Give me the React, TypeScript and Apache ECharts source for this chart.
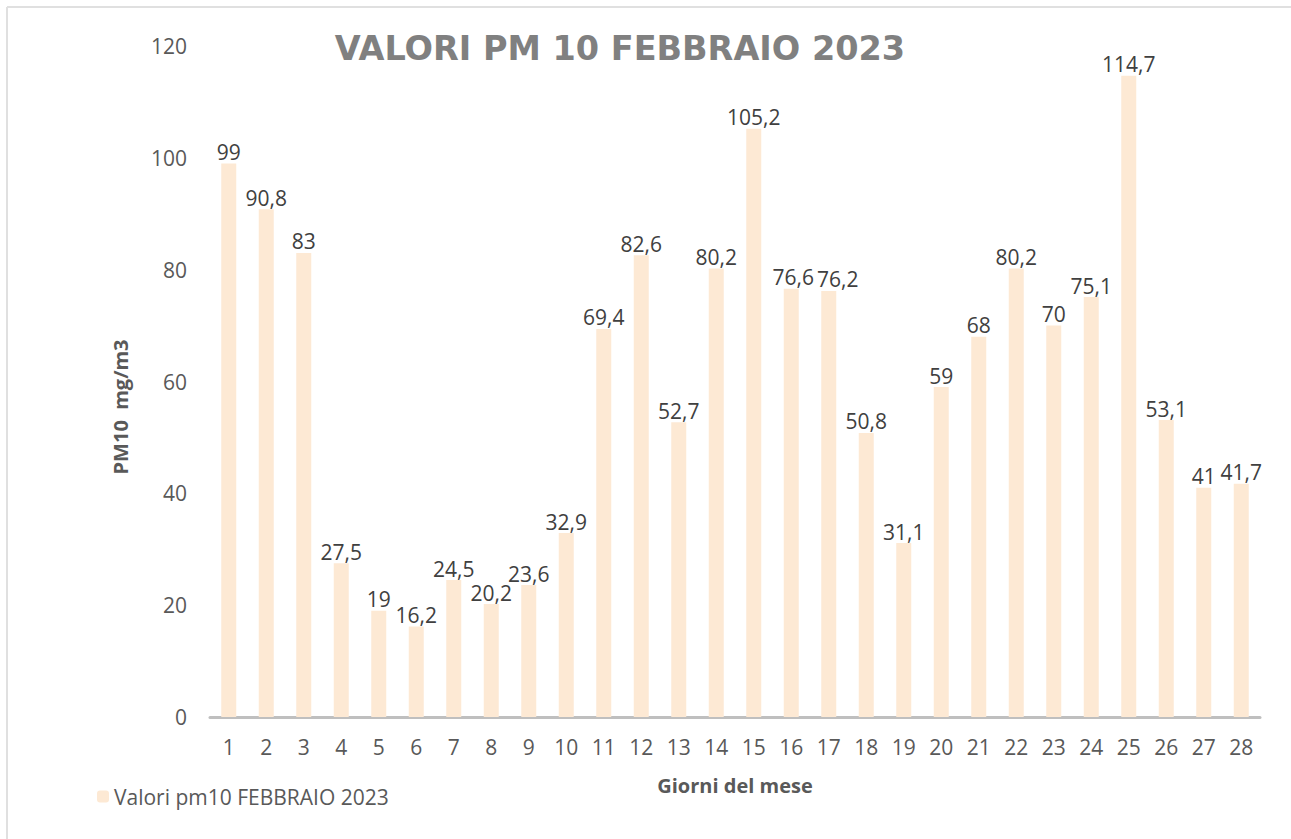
import React, { useEffect, useRef } from "react";
import * as echarts from "echarts";

const days = ["1","2","3","4","5","6","7","8","9","10","11","12","13","14","15","16","17","18","19","20","21","22","23","24","25","26","27","28"];
const pm10Values = [99, 90.8, 83, 27.5, 19, 16.2, 24.5, 20.2, 23.6, 32.9, 69.4, 82.6, 52.7, 80.2, 105.2, 76.6, 76.2, 50.8, 31.1, 59, 68, 80.2, 70, 75.1, 114.7, 53.1, 41, 41.7];
const seriesName = "Valori pm10 FEBBRAIO 2023";
const titleText = "VALORI PM 10 FEBBRAIO 2023";
const yAxisTitle = "PM10  mg/m3";
const xAxisTitle = "Giorni del mese";

const FONT = "'Open Sans', 'Noto Sans', sans-serif";

// horizontal nudges of crowded data labels (by day index), as in the reference
const labelNudge: Record<number, number> = { 15: 2, 16: 9 };

export default function App() {
  const ref = useRef<HTMLDivElement>(null);
  useEffect(() => {
    if (!ref.current) return;
    const chart = echarts.init(ref.current, undefined, { renderer: "svg" });
    chart.setOption({
      animation: false,
      backgroundColor: "#ffffff",
      title: {
        text: titleText,
        left: 615,
        textAlign: "center",
        top: 26,
        textStyle: { fontFamily: "'DejaVu Sans', sans-serif", fontSize: 33.5, fontWeight: "bold", color: "#808080" },
      },
      legend: {
        left: 92,
        top: 781,
        itemWidth: 12,
        itemHeight: 12,
        itemGap: 10,
        textStyle: { fontFamily: FONT, fontSize: 21, color: "#595959" },
        data: [seriesName],
      },
      grid: { left: 210, right: 31, top: 46, bottom: 122, containLabel: false },
      xAxis: {
        type: "category",
        data: days,
        name: xAxisTitle,
        nameLocation: "middle",
        nameGap: 58,
        nameTextStyle: { fontFamily: FONT, fontSize: 20, fontWeight: "bold", color: "#595959" },
        axisLine: { lineStyle: { color: "#bfbfbf", width: 3 } },
        axisTick: { show: false },
        axisLabel: { fontFamily: FONT, fontSize: 21, color: "#595959", margin: 19 },
      },
      yAxis: {
        type: "value",
        min: 0,
        max: 120,
        interval: 20,
        axisLine: { show: false },
        axisTick: { show: false },
        splitLine: { show: false },
        axisLabel: { fontFamily: FONT, fontSize: 21, color: "#595959", margin: 23 },
      },
      series: [
        {
          name: seriesName,
          type: "bar",
          data: pm10Values.map((v, i) =>
            labelNudge[i] !== undefined ? { value: v, label: { offset: [labelNudge[i], 0] } } : v
          ),
          barWidth: 15,
          itemStyle: { color: "#fde9d4" },
          label: {
            show: true,
            position: "top",
            distance: 1,
            fontFamily: FONT,
            fontSize: 21,
            color: "#404040",
            formatter: (p: any) => String(p.value).replace(".", ","),
          },
        },
      ],
      graphic: [
        { type: "line", shape: { x1: 7, y1: 7, x2: 1291, y2: 7 }, style: { stroke: "#e0e0e0", lineWidth: 2 } },
        { type: "line", shape: { x1: 7, y1: 7, x2: 7, y2: 839 }, style: { stroke: "#e0e0e0", lineWidth: 2 } },
        {
          type: "text",
          x: 120,
          y: 407,
          rotation: Math.PI / 2,
          style: {
            text: yAxisTitle,
            fontFamily: FONT,
            fontSize: 20,
            fontWeight: "bold",
            fill: "#595959",
            textAlign: "center",
            textVerticalAlign: "middle",
          },
        },
      ],
    });
    return () => chart.dispose();
  }, []);
  return <div ref={ref} style={{ position: "fixed", left: 0, top: 0, width: 1291, height: 839 }} />;
}
